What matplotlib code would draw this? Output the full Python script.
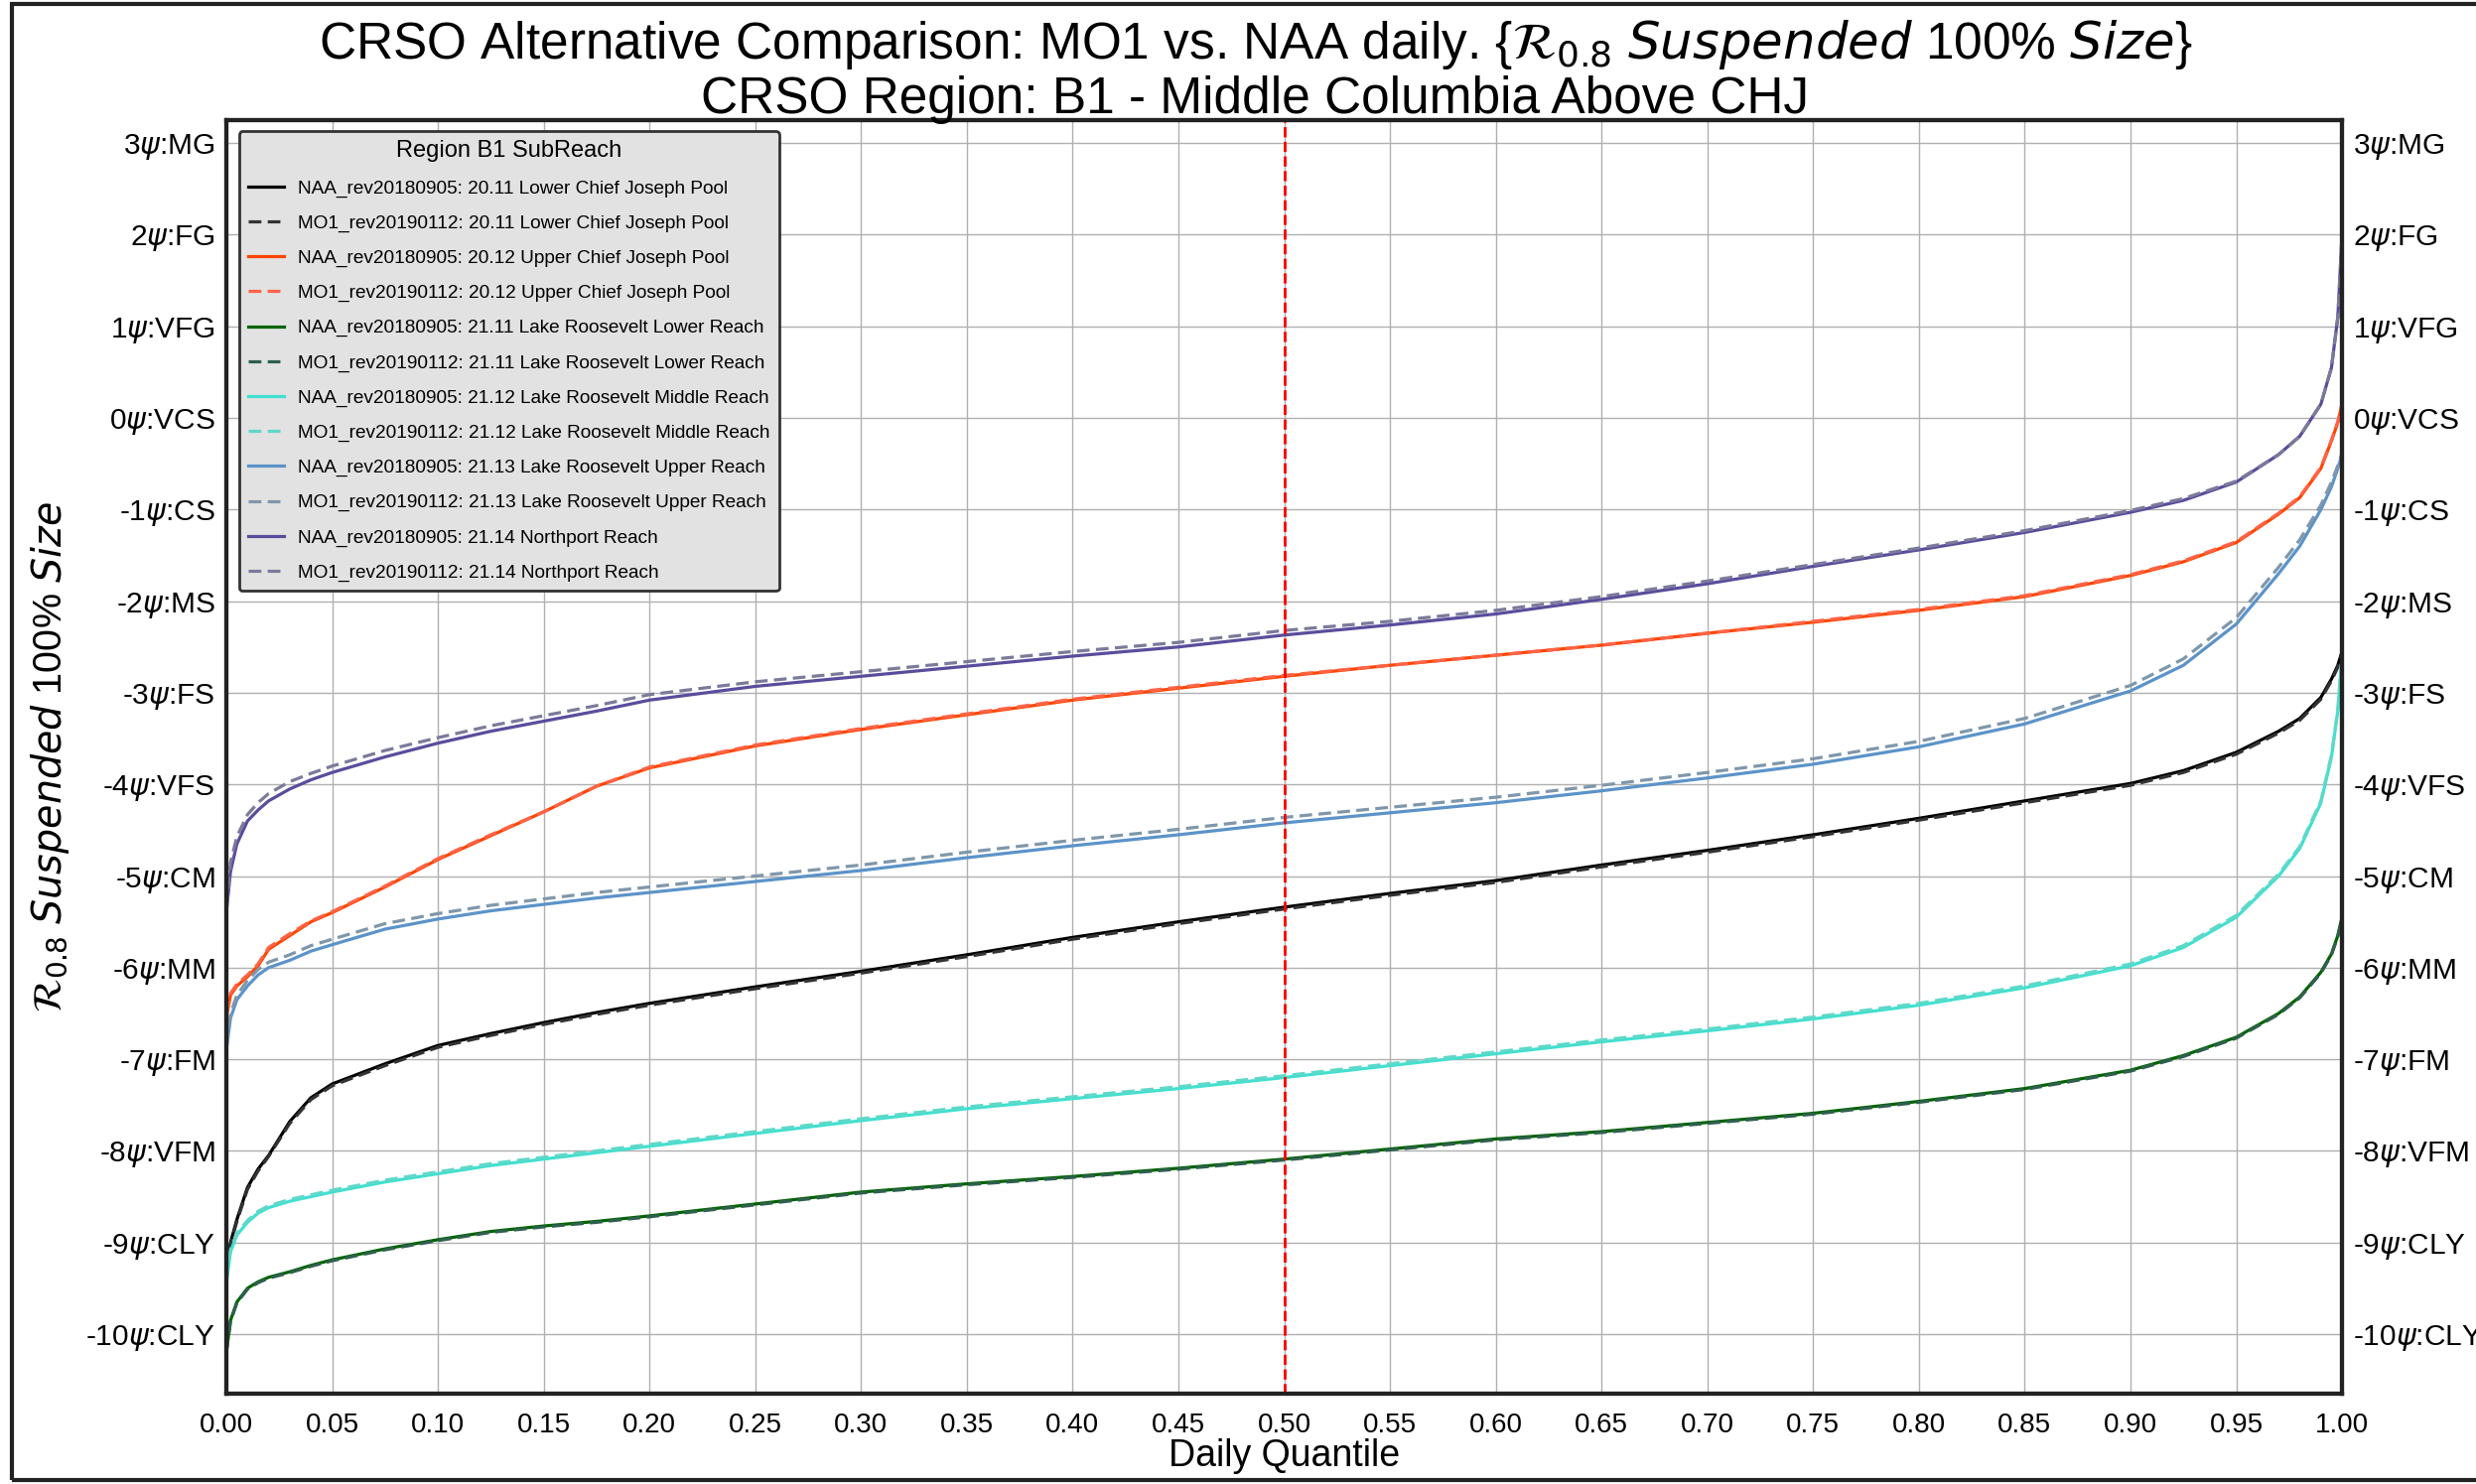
import matplotlib.pyplot as plt
from matplotlib.patches import Rectangle

plt.rcParams['font.family'] = ['Liberation Sans', 'DejaVu Sans']

# daily quantiles at which the curves were read
quantile = [0, 0.002, 0.005, 0.01, 0.015, 0.02, 0.03, 0.04, 0.05, 0.075, 0.10, 0.125,
            0.15, 0.175, 0.20, 0.25, 0.30, 0.35, 0.40, 0.45, 0.50, 0.55, 0.60, 0.65,
            0.70, 0.75, 0.80, 0.85, 0.90, 0.925, 0.95, 0.97, 0.98, 0.99, 0.995, 0.998, 1.0]

naa_2011 = [-9.3, -9.0, -8.75, -8.4, -8.2, -8.05, -7.68, -7.42, -7.27, -7.05, -6.85, -6.72,
            -6.6, -6.49, -6.39, -6.21, -6.04, -5.86, -5.67, -5.5, -5.34, -5.19, -5.05, -4.88,
            -4.72, -4.55, -4.37, -4.18, -3.99, -3.85, -3.65, -3.42, -3.28, -3.05, -2.85, -2.7, -2.55]
mo1_2011 = [-9.3, -9.02, -8.77, -8.42, -8.22, -8.06, -7.7, -7.44, -7.29, -7.07, -6.87, -6.74,
            -6.62, -6.51, -6.41, -6.23, -6.06, -5.88, -5.69, -5.52, -5.36, -5.21, -5.07, -4.9,
            -4.74, -4.57, -4.39, -4.2, -4.01, -3.87, -3.67, -3.44, -3.3, -3.07, -2.87, -2.72, -2.57]

naa_2012 = [-6.55, -6.3, -6.2, -6.1, -5.98, -5.8, -5.65, -5.5, -5.4, -5.12, -4.82, -4.56,
            -4.3, -4.02, -3.82, -3.58, -3.4, -3.24, -3.08, -2.95, -2.82, -2.7, -2.59, -2.48,
            -2.35, -2.23, -2.1, -1.95, -1.72, -1.57, -1.36, -1.05, -0.87, -0.55, -0.25, -0.05, 0.15]
mo1_2012 = [-6.5, -6.28, -6.18, -6.08, -5.96, -5.78, -5.63, -5.49, -5.39, -5.11, -4.81, -4.55,
            -4.3, -4.02, -3.81, -3.57, -3.39, -3.23, -3.07, -2.94, -2.81, -2.7, -2.59, -2.48,
            -2.35, -2.22, -2.09, -1.94, -1.71, -1.56, -1.35, -1.04, -0.86, -0.54, -0.24, -0.04, 0.15]

naa_2111 = [-10.2, -9.85, -9.65, -9.5, -9.43, -9.38, -9.32, -9.25, -9.19, -9.07, -8.97, -8.88,
            -8.82, -8.77, -8.71, -8.58, -8.45, -8.36, -8.28, -8.19, -8.09, -7.98, -7.87, -7.79,
            -7.69, -7.59, -7.46, -7.32, -7.12, -6.96, -6.76, -6.5, -6.32, -6.05, -5.85, -5.65, -5.45]
mo1_2111 = [-10.2, -9.86, -9.66, -9.51, -9.44, -9.39, -9.33, -9.26, -9.2, -9.08, -8.98, -8.89,
            -8.83, -8.78, -8.72, -8.59, -8.46, -8.37, -8.29, -8.2, -8.1, -7.99, -7.88, -7.8,
            -7.7, -7.6, -7.47, -7.33, -7.13, -6.97, -6.77, -6.51, -6.33, -6.06, -5.86, -5.66, -5.46]

naa_2112 = [-9.45, -9.1, -8.92, -8.78, -8.68, -8.62, -8.55, -8.5, -8.45, -8.34, -8.25, -8.16,
            -8.09, -8.02, -7.95, -7.81, -7.67, -7.54, -7.43, -7.32, -7.2, -7.07, -6.94, -6.81,
            -6.69, -6.56, -6.41, -6.22, -5.98, -5.78, -5.45, -5.0, -4.7, -4.2, -3.7, -3.2, -2.6]
mo1_2112 = [-9.4, -9.08, -8.9, -8.76, -8.66, -8.6, -8.53, -8.48, -8.43, -8.32, -8.23, -8.14,
            -8.07, -8.0, -7.93, -7.79, -7.65, -7.52, -7.41, -7.3, -7.18, -7.05, -6.92, -6.79,
            -6.67, -6.54, -6.39, -6.2, -5.96, -5.76, -5.43, -4.98, -4.68, -4.18, -3.68, -3.18, -2.6]

naa_2113 = [-6.9, -6.55, -6.35, -6.2, -6.08, -6.0, -5.92, -5.82, -5.75, -5.58, -5.47, -5.38,
            -5.31, -5.24, -5.18, -5.06, -4.94, -4.8, -4.67, -4.55, -4.42, -4.31, -4.2, -4.07,
            -3.93, -3.78, -3.59, -3.34, -2.98, -2.7, -2.25, -1.7, -1.4, -1.0, -0.75, -0.55, -0.4]
mo1_2113 = [-6.85, -6.5, -6.3, -6.14, -6.02, -5.94, -5.86, -5.76, -5.69, -5.52, -5.41, -5.32,
            -5.25, -5.18, -5.12, -5.0, -4.88, -4.74, -4.61, -4.49, -4.36, -4.25, -4.14, -4.01,
            -3.87, -3.72, -3.53, -3.28, -2.92, -2.63, -2.18, -1.63, -1.33, -0.95, -0.7, -0.52, -0.38]

naa_2114 = [-5.4, -4.95, -4.65, -4.4, -4.28, -4.18, -4.05, -3.95, -3.87, -3.7, -3.55, -3.42,
            -3.31, -3.2, -3.08, -2.93, -2.82, -2.71, -2.6, -2.5, -2.37, -2.26, -2.14, -1.98,
            -1.81, -1.62, -1.44, -1.25, -1.03, -0.9, -0.7, -0.4, -0.2, 0.15, 0.55, 1.1, 2.0]
mo1_2114 = [-5.35, -4.85, -4.57, -4.33, -4.2, -4.1, -3.97, -3.88, -3.8, -3.63, -3.49, -3.36,
            -3.25, -3.14, -3.02, -2.88, -2.77, -2.66, -2.55, -2.45, -2.32, -2.22, -2.1, -1.95,
            -1.78, -1.6, -1.42, -1.23, -1.01, -0.88, -0.69, -0.4, -0.2, 0.15, 0.55, 1.1, 2.0]

reaches = ['20.11 Lower Chief Joseph Pool', '20.12 Upper Chief Joseph Pool',
           '21.11 Lake Roosevelt Lower Reach', '21.12 Lake Roosevelt Middle Reach',
           '21.13 Lake Roosevelt Upper Reach', '21.14 Northport Reach']
naa_series = [naa_2011, naa_2012, naa_2111, naa_2112, naa_2113, naa_2114]
mo1_series = [mo1_2011, mo1_2012, mo1_2111, mo1_2112, mo1_2113, mo1_2114]
naa_colors = ['black', 'orangered', 'darkgreen', 'turquoise', '#5b93c9', '#5a4c9c']
mo1_colors = ['#333333', 'tomato', '#2f5f4f', '#5fd8c8', '#7f97aa', '#7a7a9a']

psi_ticks = [3, 2, 1, 0, -1, -2, -3, -4, -5, -6, -7, -8, -9, -10]
psi_names = ['MG', 'FG', 'VFG', 'VCS', 'CS', 'MS', 'FS', 'VFS', 'CM', 'MM', 'FM', 'VFM', 'CLY', 'CLY']
x_ticks = [i * 0.05 for i in range(21)]

fig = plt.figure(figsize=(24.94, 14.95), dpi=100)
ax = fig.add_axes([0.0914, 0.0609, 0.8545, 0.8581])

for reach, naa, mo1, c1, c2 in zip(reaches, naa_series, mo1_series, naa_colors, mo1_colors):
    ax.plot(quantile, naa, color=c1, lw=2.3, label='NAA_rev20180905: ' + reach)
    ax.plot(quantile, mo1, color=c2, lw=2.3, ls=(0, (4, 2)), label='MO1_rev20190112: ' + reach)

ax.axvline(0.5, color='red', ls='--', lw=2)

ax.set_xlim(0, 1)
ax.set_ylim(-10.65, 3.25)
ax.set_xticks(x_ticks)
ax.set_xticklabels(['%.2f' % t for t in x_ticks], fontsize=20)
labels = [r'%d$\psi$:%s' % (t, n) for t, n in zip(psi_ticks, psi_names)]
ax.set_yticks(psi_ticks)
ax.set_yticklabels(labels, fontsize=21.5)
ax.grid(True, color='#b0b0b0', lw=1)
ax.tick_params(axis='x', length=0, pad=14)
ax.tick_params(axis='y', length=0, pad=8)
for s in ax.spines.values():
    s.set_linewidth(3)
    s.set_color('#222222')

ax2 = ax.twinx()
ax2.set_ylim(ax.get_ylim())
ax2.set_yticks(psi_ticks)
ax2.set_yticklabels(labels, fontsize=21.5)
ax2.tick_params(length=0, pad=8)
for s in ax2.spines.values():
    s.set_linewidth(3)
    s.set_color('#222222')

ax.set_xlabel('Daily Quantile', fontsize=27, labelpad=0)
ax.set_ylabel(r'$\mathcal{R}_{0.8}$ $\mathit{Suspended}$ 100% $\mathit{Size}$', fontsize=28.5, labelpad=10)

fig.text(0.507, 0.970, r'CRSO Alternative Comparison: MO1 vs. NAA daily. {$\mathcal{R}_{0.8}$ $\mathit{Suspended}$ 100% $\mathit{Size}$}',
         ha='center', va='center', fontsize=37)
fig.text(0.507, 0.933, 'CRSO Region: B1 - Middle Columbia Above CHJ', ha='center', va='center', fontsize=37)

leg = ax.legend(loc='upper left', title='Region B1 SubReach', fontsize=13.7, title_fontsize=17,
                frameon=True, facecolor='#e2e2e2', edgecolor='#333333', framealpha=1,
                handlelength=1.9, handletextpad=0.7, labelspacing=0.93, borderpad=0.5,
                bbox_to_anchor=(0.0015, 0.999))
leg.get_frame().set_linewidth(2)

fig.patches.append(Rectangle((0.005, 0.003), 1.2, 0.994, transform=fig.transFigure,
                             fill=False, edgecolor='#222222', lw=3))

fig.savefig('out.png', dpi=100)
